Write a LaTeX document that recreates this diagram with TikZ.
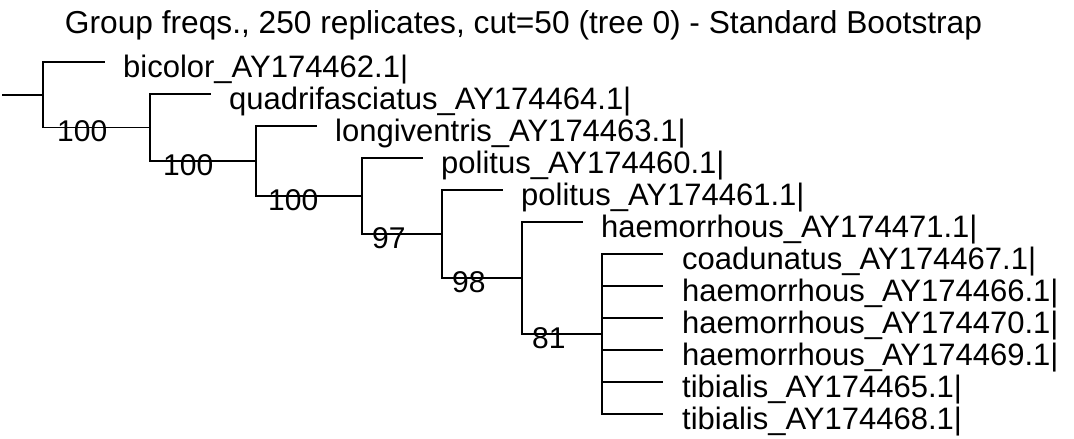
\documentclass[tikz,border=0pt]{standalone}
\usepackage{fontspec}
\setmainfont{Liberation Sans}
\tikzset{
  br/.style={line width=1.9pt, line cap=rect},
  lab/.style={anchor=base west, inner sep=0pt, font=\fontsize{31}{37}\selectfont},
  bs/.style={anchor=base west, inner sep=0pt, font=\fontsize{30}{36}\selectfont},
  ttl/.style={anchor=base, inner sep=0pt, font=\fontsize{31.7}{38}\selectfont}
}
\begin{document}
\begin{tikzpicture}[x=1pt,y=-1pt]
\useasboundingbox (0,0) rectangle (1074,439);
\node[ttl] (title) at (523.5,33) {Group freqs., 250 replicates, cut=50 (tree 0) - Standard Bootstrap};
% internal nodes
\coordinate (root) at (3,94.75);
\coordinate (n1) at (43,94.75);
\coordinate (n2) at (150,127.5);
\coordinate (n3) at (256,161);
\coordinate (n4) at (362,196);
\coordinate (n5) at (442,234);
\coordinate (n6) at (522,278);
\coordinate (n7) at (602,334);
% leaf ends
\coordinate (l1) at (104,62);
\coordinate (l2) at (210,94);
\coordinate (l3) at (316,126);
\coordinate (l4) at (422,158);
\coordinate (l5) at (502,190);
\coordinate (l6) at (582,222);
\coordinate (l7) at (662,254);
\coordinate (l8) at (662,286);
\coordinate (l9) at (662,318);
\coordinate (l10) at (662,350);
\coordinate (l11) at (662,382);
\coordinate (l12) at (662,414);
% branches
\draw[br] (root) -- (n1);
\draw[br] (n1 |- l1) -- (n1 |- n2);
\draw[br] (n1 |- l1) -- (l1);
\draw[br] (n1 |- n2) -- (n2);
\draw[br] (n2 |- l2) -- (n2 |- n3);
\draw[br] (n2 |- l2) -- (l2);
\draw[br] (n2 |- n3) -- (n3);
\draw[br] (n3 |- l3) -- (n3 |- n4);
\draw[br] (n3 |- l3) -- (l3);
\draw[br] (n3 |- n4) -- (n4);
\draw[br] (n4 |- l4) -- (n4 |- n5);
\draw[br] (n4 |- l4) -- (l4);
\draw[br] (n4 |- n5) -- (n5);
\draw[br] (n5 |- l5) -- (n5 |- n6);
\draw[br] (n5 |- l5) -- (l5);
\draw[br] (n5 |- n6) -- (n6);
\draw[br] (n6 |- l6) -- (n6 |- n7);
\draw[br] (n6 |- l6) -- (l6);
\draw[br] (n6 |- n7) -- (n7);
\draw[br] (n7 |- l7) -- (n7 |- l12);
\foreach \i in {7,...,12} { \draw[br] (n7 |- l\i) -- (l\i); }
% leaf labels
\node[lab] (t1) at (123,77.5) {bicolor\_AY174462.1|};
\node[lab] (t2) at (229,109.5) {quadrifasciatus\_AY174464.1|};
\node[lab] (t3) at (335,141.5) {longiventris\_AY174463.1|};
\node[lab] (t4) at (441,173.5) {politus\_AY174460.1|};
\node[lab] (t5) at (521,205.5) {politus\_AY174461.1|};
\node[lab] (t6) at (601,237.5) {haemorrhous\_AY174471.1|};
\node[lab] (t7) at (682,269.5) {coadunatus\_AY174467.1|};
\node[lab] (t8) at (682,301.5) {haemorrhous\_AY174466.1|};
\node[lab] (t9) at (682,333.5) {haemorrhous\_AY174470.1|};
\node[lab] (t10) at (682,365.5) {haemorrhous\_AY174469.1|};
\node[lab] (t11) at (682,397.5) {tibialis\_AY174465.1|};
\node[lab] (t12) at (682,429.5) {tibialis\_AY174468.1|};
% support values
\node[bs] (s2) at (57,141.5) {100};
\node[bs] (s3) at (163,175) {100};
\node[bs] (s4) at (268,210) {100};
\node[bs] (s5) at (372,248) {97};
\node[bs] (s6) at (452,292) {98};
\node[bs] (s7) at (532,348) {81};
\end{tikzpicture}
\end{document}
